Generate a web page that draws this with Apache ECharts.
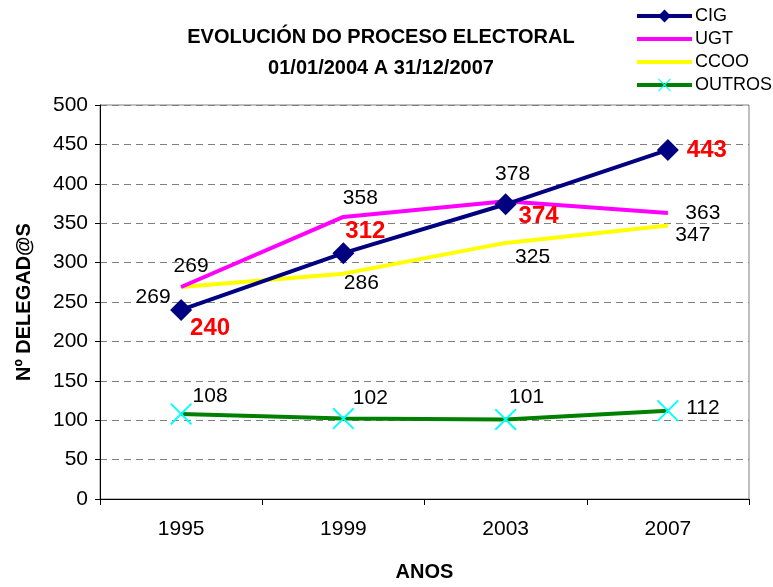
<!DOCTYPE html>
<html>
<head>
<meta charset="utf-8">
<script src="https://cdn.jsdelivr.net/npm/echarts@6/dist/echarts.min.js"></script>
<style>html,body{margin:0;padding:0;background:#fff}#c{width:773px;height:587px}</style>
</head>
<body>
<div id="c"></div>
<script>
const categories = ['1995', '1999', '2003', '2007'];
const cig = [240, 312, 374, 443];
const ugt = [269, 358, 378, 363];
const ccoo = [269, 286, 325, 347];
const outros = [108, 102, 101, 112];
const seriesNames = ['CIG', 'UGT', 'CCOO', 'OUTROS'];
const yTicks = [0, 50, 100, 150, 200, 250, 300, 350, 400, 450, 500];

// label offsets (style only)
const offCig = [[29, 18], [22, -22], [33, 12], [39, 0]];
const offUgt = [[10, -21], [17, -19], [7, -27], [35, 0]];
const offCcoo = [[-28, 10], [18, 10], [27, 14], [25, 10]];
const offOutros = [[29, -18], [27, -20], [21, -22], [35, -3]];

const FONT = "'Liberation Sans', Arial, sans-serif";
function withLabels(vals, offs, style) {
  return vals.map((v, i) => ({
    value: v,
    label: Object.assign({show: true, position: 'inside', offset: offs[i], fontFamily: FONT}, style)
  }));
}
const blackLbl = {color: '#000', fontSize: 21};
const redLbl = {color: '#ff0000', fontSize: 24, fontWeight: 'bold'};
const xPath = 'path://M0,0.6 L0.6,0 L10,9.4 L9.4,10 Z M9.4,0 L10,0.6 L0.6,10 L0,9.4 Z';

const chart = echarts.init(document.getElementById('c'), null, {renderer: 'canvas'});
chart.setOption({
  animation: false,
  backgroundColor: '#fff',
  textStyle: {fontFamily: FONT},
  title: {
    text: 'EVOLUCIÓN DO PROCESO ELECTORAL\n01/01/2004 A 31/12/2007',
    left: 376, top: 17, textAlign: 'center',
    textStyle: {fontSize: 20, fontWeight: 'bold', color: '#000', lineHeight: 31, fontFamily: FONT}
  },
  legend: {
    orient: 'vertical', left: 630, top: 2, itemWidth: 55, itemHeight: 16, itemGap: 5,
    lineStyle: {width: 4},
    data: [
      {name: seriesNames[0]},
      {name: seriesNames[1], itemStyle: {opacity: 0}},
      {name: seriesNames[2], itemStyle: {opacity: 0}},
      {name: seriesNames[3]}
    ],
    textStyle: {fontSize: 18, color: '#000', fontFamily: FONT, padding: [0, 0, 0, -2]}
  },
  grid: {left: 100, right: 24, top: 105, bottom: 85, show: true, borderColor: '#808080', borderWidth: 1, backgroundColor: 'transparent'},
  xAxis: {
    type: 'category', data: categories, boundaryGap: true,
    name: 'ANOS', nameLocation: 'middle', nameGap: 63,
    nameTextStyle: {fontSize: 20, fontWeight: 'bold', color: '#000', fontFamily: FONT},
    axisLine: {lineStyle: {color: '#000', width: 1}},
    axisTick: {show: true, inside: false, length: 6, alignWithLabel: false, lineStyle: {color: '#000'}},
    axisLabel: {fontSize: 21, color: '#000', margin: 20, fontFamily: FONT},
    splitLine: {show: false}
  },
  yAxis: {
    type: 'value', min: 0, max: 500, interval: 50,
    name: 'Nº DELEGAD@S', nameLocation: 'middle', nameGap: 66, nameRotate: 90,
    nameTextStyle: {fontSize: 20, fontWeight: 'bold', color: '#000', fontFamily: FONT},
    axisLine: {show: true, lineStyle: {color: '#000', width: 1}},
    axisTick: {show: true, length: 5, lineStyle: {color: '#000'}},
    axisLabel: {fontSize: 21, color: '#000', margin: 12, fontFamily: FONT,
      formatter: v => yTicks.includes(v) ? String(v) : ''},
    splitLine: {show: true, lineStyle: {color: '#808080', type: [7, 5], width: 1}}
  },
  series: [
    {
      name: 'CCOO', type: 'line', data: withLabels(ccoo, offCcoo, blackLbl),
      symbol: 'circle', symbolSize: 1, showAllSymbol: true, z: 2,
      lineStyle: {color: '#ffff00', width: 4}, itemStyle: {color: '#ffff00'}
    },
    {
      name: 'UGT', type: 'line', data: withLabels(ugt, offUgt, blackLbl),
      symbol: 'circle', symbolSize: 1, showAllSymbol: true, z: 3,
      lineStyle: {color: '#ff00ff', width: 4}, itemStyle: {color: '#ff00ff'}
    },
    {
      name: 'CIG', type: 'line', data: withLabels(cig, offCig, redLbl),
      symbol: 'diamond', symbolSize: 22, showAllSymbol: true, z: 4,
      lineStyle: {color: '#000080', width: 4}, itemStyle: {color: '#000080'}
    },
    {
      name: 'OUTROS', type: 'line', data: withLabels(outros, offOutros, blackLbl),
      symbol: xPath, symbolSize: 22, showAllSymbol: true, z: 5,
      lineStyle: {color: '#008000', width: 4}, itemStyle: {color: '#00ffff'}
    }
  ]
});
</script>
</body>
</html>
